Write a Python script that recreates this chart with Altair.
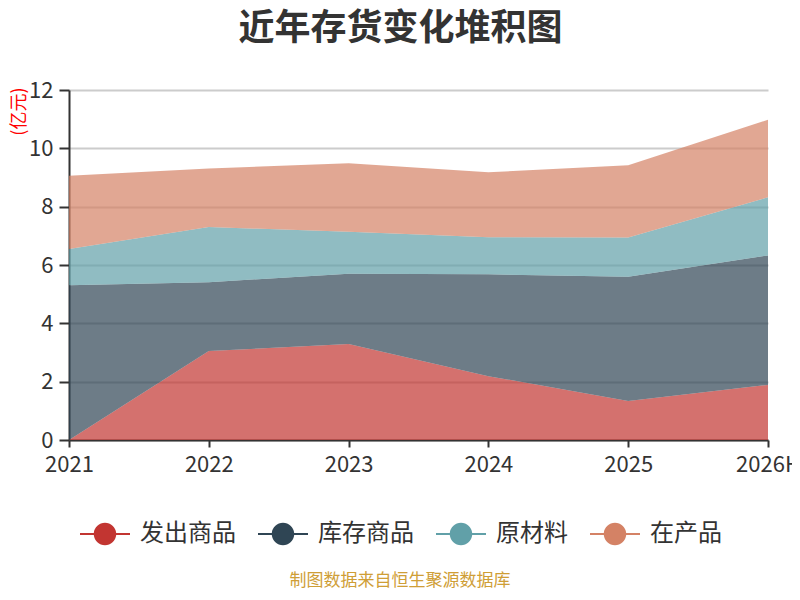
import altair as alt
import pandas as pd

years = ["2021", "2022", "2023", "2024", "2025", "2026H"]
series = ["发出商品", "库存商品", "原材料", "在产品"]
colors = ["#c23531", "#2f4554", "#61a0a8", "#d48265"]
fachu = [0.0, 3.05, 3.29, 2.19, 1.34, 1.89]
kucun = [5.31, 2.36, 2.41, 3.49, 4.26, 4.44]
yuancailiao = [1.24, 1.89, 1.44, 1.27, 1.34, 1.99]
zaichan = [2.51, 2.01, 2.35, 2.23, 2.48, 2.66]

values = [fachu, kucun, yuancailiao, zaichan]
rows = []
for si, (name, vals) in enumerate(zip(series, values)):
    for y, v in zip(years, vals):
        rows.append({"year": y, "series": name, "value": v, "idx": si})
df = pd.DataFrame(rows)

FONT = "Noto Sans CJK SC"
legend_path = ("M-1,-0.04 L-0.448,-0.04 A0.45,0.45 0 0,1 0.448,-0.04 L1,-0.04 "
               "L1,0.04 L0.448,0.04 A0.45,0.45 0 0,1 -0.448,0.04 L-1,0.04 Z")

area = alt.Chart(df).mark_area(opacity=0.7).encode(
    x=alt.X("year:O", sort=years, scale=alt.Scale(type="point", padding=0),
            axis=alt.Axis(title=None, labelAngle=0, labelFontSize=22, labelColor="#333",
                          labelFont=FONT, domainColor="#333", domainWidth=2,
                          tickColor="#333", tickWidth=2, tickSize=7, labelPadding=7,
                          grid=False)),
    y=alt.Y("value:Q", stack="zero", scale=alt.Scale(domain=[0, 12]),
            axis=alt.Axis(values=[0, 2, 4, 6, 8, 10, 12], title="(亿元)", titleColor="red",
                          titleFontSize=18, titleFont=FONT, titleFontWeight="normal",
                          titleAngle=-90, titleX=-50, titleY=-3, titleAlign="right",
                          titleBaseline="middle",
                          labelFontSize=22, labelColor="#333", labelFont=FONT,
                          domainColor="#333", domainWidth=2, tickColor="#333",
                          tickWidth=2, tickSize=10, labelPadding=6,
                          gridColor="#cccccc", gridWidth=2)),
    color=alt.Color("series:N", scale=alt.Scale(domain=series, range=colors),
                    legend=alt.Legend(title=None, orient="none", legendX=11, legendY=419,
                                      direction="horizontal", columns=4, columnPadding=22,
                                      symbolType=legend_path, symbolSize=2500,
                                      symbolOpacity=1, symbolStrokeWidth=0,
                                      labelFontSize=24, labelFont=FONT, labelColor="#333",
                                      labelOffset=10, padding=0)),
    order=alt.Order("idx:Q"),
)

src = pd.DataFrame({"t": ["制图数据来自恒生聚源数据库"]})
source = alt.Chart(src).mark_text(fontSize=17, font=FONT, color="#cf9e36",
                                  align="center", baseline="middle").encode(
    text="t:N", x=alt.value(331), y=alt.value(491))

chart = alt.layer(area, source).properties(
    width=699, height=350,
    title=alt.TitleParams("近年存货变化堆积图", fontSize=36, fontWeight="bold", color="#333",
                          font=FONT, anchor="middle", offset=31, dx=-18),
    autosize="none",
    padding={"left": 61, "top": 82, "right": 24, "bottom": 152},
).configure_view(stroke=None)

chart.save("out.html", embed_options={"renderer": "svg", "actions": False})
